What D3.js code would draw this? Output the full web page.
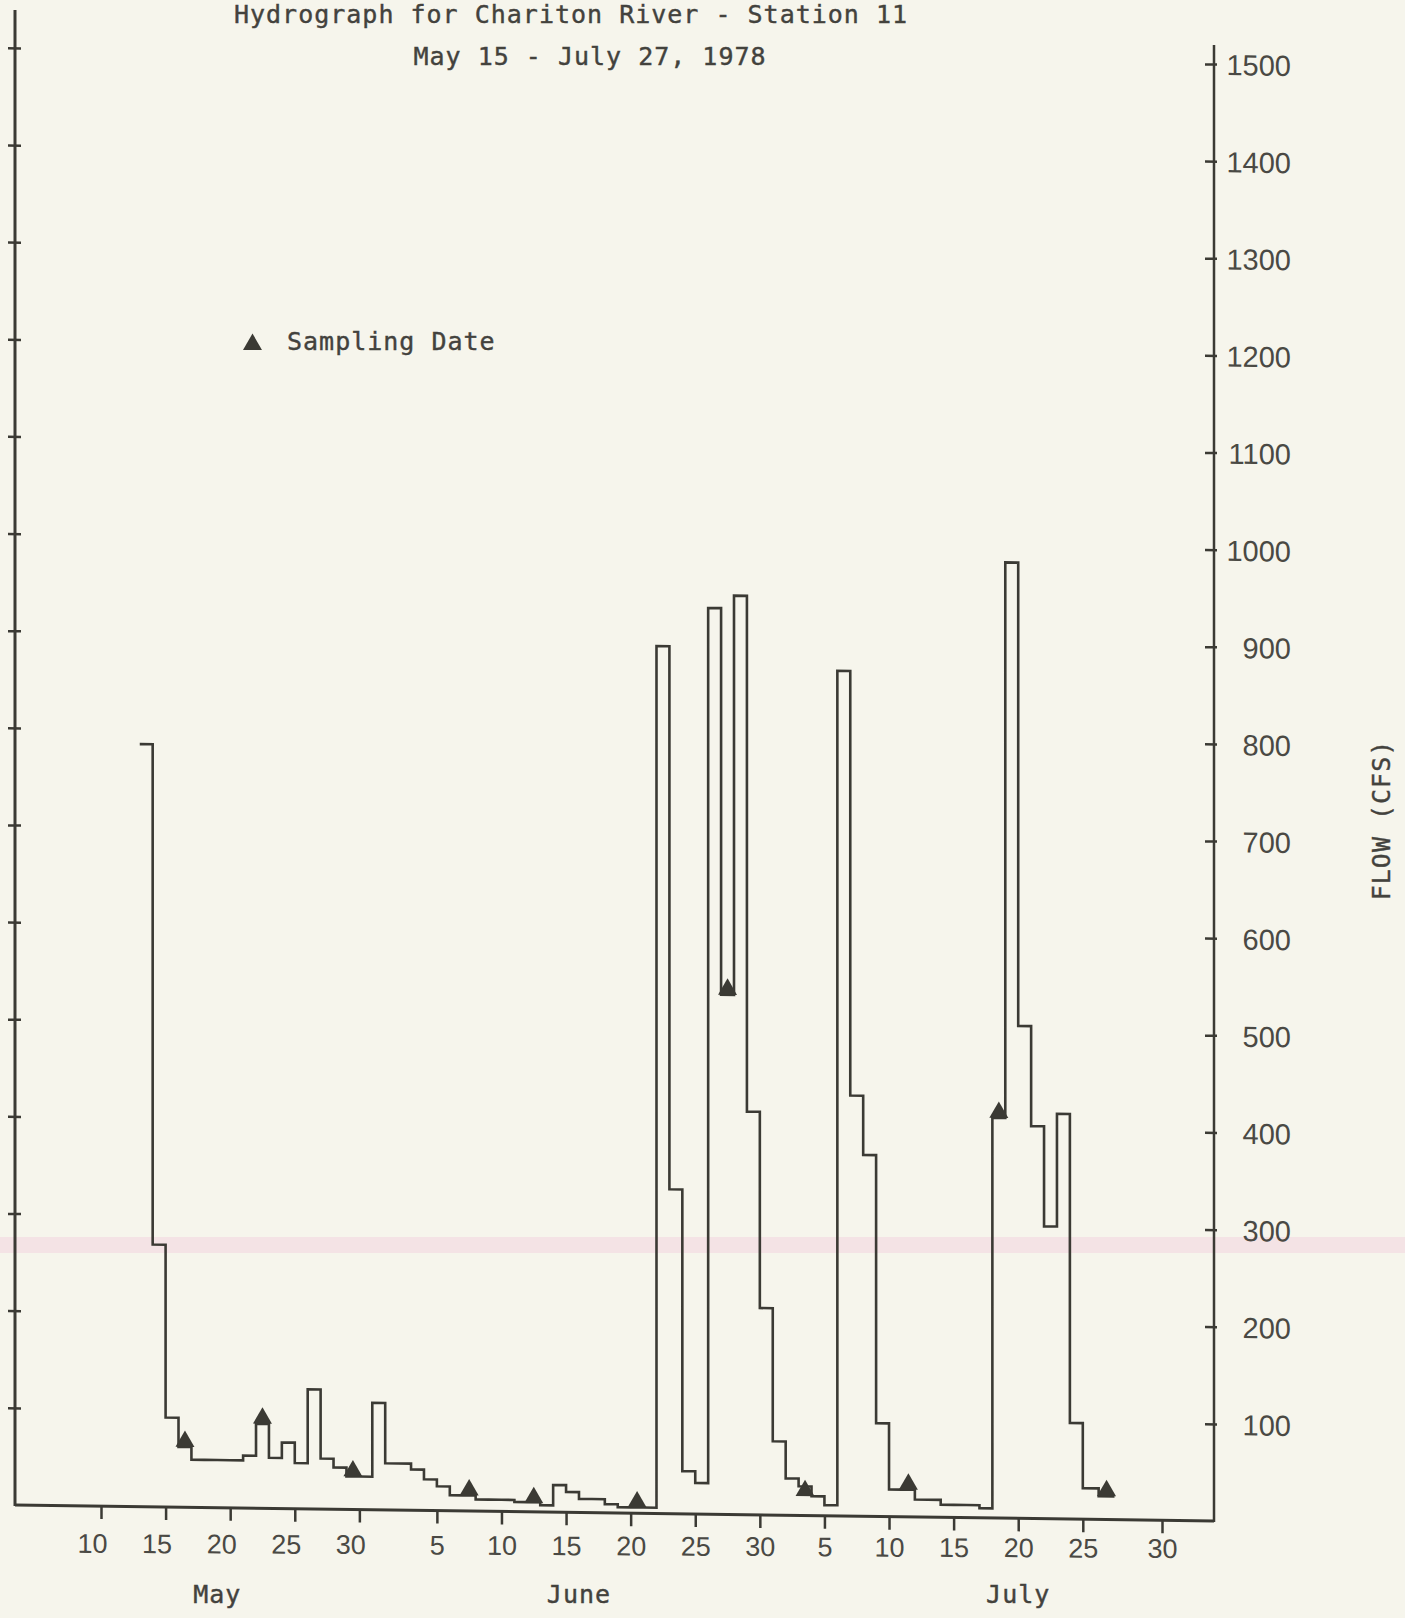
<!DOCTYPE html>
<html>
<head>
<meta charset="utf-8">
<script src="https://cdn.jsdelivr.net/npm/d3@7"></script>
<style>
  html, body { margin: 0; padding: 0; background: #f6f5ec; }
  svg { display: block; }
  .mono { font-family: "DejaVu Sans Mono", monospace; font-size: 25px; letter-spacing: 1px;
    fill: #43423d; stroke: #43423d; stroke-width: 0.4px; }
</style>
</head>
<body>
<svg id="chart" width="1405" height="1618"></svg>
<script>
// daily flow (cfs)
const mayFlow = [785, 270, 92, 62, 49, 49, 49, 49, 54, 87, 52, 68, 47, 123, 52, 43, 34, 34, 110]; // May 13-31
const juneFlow = [48, 48, 42, 32, 25, 16, 16, 12, 12, 12, 10, 10, 7, 28, 21, 14, 14, 9, 6, 6,
  6, 893, 334, 44, 32, 933, 535, 946, 415, 213]; // June 1-30
const julyFlow = [76, 38, 30, 20, 11, 870, 433, 372, 96, 28, 28, 18, 18, 13, 13, 13, 10, 412,
  984, 507, 404, 301, 417, 99, 32, 24]; // July 1-26

const sampleDates = ["1978-05-16", "1978-05-22", "1978-05-29", "1978-06-07", "1978-06-12", "1978-06-20",
  "1978-06-27", "1978-07-03", "1978-07-11", "1978-07-18", "1978-07-26"];
const sampleFlows = [62, 87, 34, 16, 9, 6, 535, 20, 28, 412, 24];

const dayTicks = ["1978-05-10", "1978-05-15", "1978-05-20", "1978-05-25", "1978-05-30",
  "1978-06-05", "1978-06-10", "1978-06-15", "1978-06-20", "1978-06-25", "1978-06-30",
  "1978-07-05", "1978-07-10", "1978-07-15", "1978-07-20", "1978-07-25", "1978-07-30"];
const flowTicks = [100, 200, 300, 400, 500, 600, 700, 800, 900, 1000, 1100, 1200, 1300, 1400, 1500];
const months = ["May", "June", "July"];
const monthAt = ["1978-05-19", "1978-06-16", "1978-07-20"];

const parse = d3.utcParse("%Y-%m-%d");
const DAY = 864e5;
const ink = "#3b3a34";
const textInk = "#4a4944";
const sans = '"Liberation Sans", Arial, sans-serif';

// build the daily series
const series = [];
[["1978-05-13", mayFlow], ["1978-06-01", juneFlow], ["1978-07-01", julyFlow]].forEach(([start, vals]) => {
  const t0 = parse(start).getTime();
  vals.forEach((v, i) => series.push({ date: new Date(t0 + i * DAY), flow: v }));
});
const last = series[series.length - 1];
series.push({ date: new Date(last.date.getTime() + DAY), flow: last.flow });

const samples = sampleDates.map((d, i) => ({ date: new Date(parse(d).getTime() + DAY / 2), flow: sampleFlows[i] }));

const svg = d3.select("#chart");
const xLeft = 15, xRight = 1214;
const tilt = 0.0134;       // the scanned axes run slightly downhill
const labelTilt = 0.0047;  // the typed day numbers run less steeply

// hand-drawn axis: the last five-day step is drawn a little wider
const x = d3.scaleUtc()
  .domain([parse("1978-05-10"), parse("1978-07-25"), parse("1978-07-30")])
  .range([101, 1082.8, 1162]);
const y = d3.scaleLinear().domain([0, 1500]).range([1521, 64]);

// faint pink band on the paper
svg.append("rect")
  .attr("x", 0).attr("y", 1237).attr("width", 1405).attr("height", 16)
  .attr("fill", "#f3d9e2").attr("opacity", 0.65);

// titles
svg.append("text").attr("class", "mono").attr("x", 571).attr("y", 23).attr("text-anchor", "middle")
  .text("Hydrograph for Chariton River - Station 11");
svg.append("text").attr("class", "mono").attr("x", 590).attr("y", 65).attr("text-anchor", "middle")
  .text("May 15 - July 27, 1978");

// legend
svg.append("path")
  .attr("transform", "translate(252.5,344.5)")
  .attr("d", d3.symbol(d3.symbolTriangle, 156)())
  .attr("fill", ink);
svg.append("text").attr("class", "mono").attr("x", 287).attr("y", 350).text("Sampling Date");

const plot = svg.append("g")
  .attr("transform", `translate(0,${-tilt * xRight}) skewY(${Math.atan(tilt) * 180 / Math.PI})`);

// axis lines
plot.append("line").attr("x1", xLeft).attr("x2", xRight).attr("y1", y(0)).attr("y2", y(0))
  .attr("stroke", ink).attr("stroke-width", 3);
plot.append("line").attr("x1", xLeft).attr("x2", xLeft).attr("y1", y(0) + 1).attr("y2", 26)
  .attr("stroke", ink).attr("stroke-width", 3);
plot.append("line").attr("x1", xRight).attr("x2", xRight).attr("y1", y(0) + 1).attr("y2", 45)
  .attr("stroke", ink).attr("stroke-width", 2.5);

const gLeft = plot.append("g").attr("transform", `translate(${xLeft},0)`)
  .call(d3.axisLeft(y).tickValues(flowTicks).tickFormat("").tickSizeOuter(0));
gLeft.select(".domain").remove();
gLeft.selectAll(".tick line").attr("x1", -7).attr("x2", 6).attr("stroke", ink).attr("stroke-width", 2.5);

const gRight = plot.append("g").attr("transform", `translate(${xRight},0)`)
  .call(d3.axisRight(y).tickValues(flowTicks).tickFormat(d3.format("d")).tickSizeOuter(0))
  .attr("font-family", sans).attr("font-size", 29);
gRight.select(".domain").remove();
gRight.selectAll(".tick line").attr("x1", -9).attr("x2", 3).attr("stroke", ink).attr("stroke-width", 2.5);
gRight.selectAll(".tick text").attr("x", 77).attr("dy", "0.36em").attr("text-anchor", "end").attr("fill", textInk);

const gBottom = plot.append("g").attr("transform", `translate(0,${y(0)})`)
  .call(d3.axisBottom(x).tickValues(dayTicks.map(parse)).tickFormat(d3.utcFormat("%-d")).tickSize(13).tickSizeOuter(0))
  .attr("font-family", sans).attr("font-size", 27);
gBottom.select(".domain").remove();
gBottom.selectAll(".tick line").attr("stroke", ink).attr("stroke-width", 2.5);
gBottom.selectAll(".tick text")
  .attr("dy", null)
  .attr("y", d => {
    const px = x(d);
    return 32 + labelTilt * (px - 106) - tilt * (px - xRight);
  })
  .attr("dx", d => d.getUTCMonth() === 4 ? -9 : 0)
  .attr("fill", textInk);

// hydrograph
const line = d3.line()
  .x(d => x(d.date))
  .y(d => y(d.flow))
  .curve(d3.curveStepAfter);

plot.append("path")
  .datum(series)
  .attr("d", line)
  .attr("fill", "none")
  .attr("stroke", ink)
  .attr("stroke-width", 2.6)
  .attr("stroke-linejoin", "miter");

plot.selectAll(".sample")
  .data(samples)
  .join("path")
  .attr("class", "sample")
  .attr("transform", d => `translate(${x(d.date)},${y(d.flow) - 5.5})`)
  .attr("d", d3.symbol(d3.symbolTriangle, 156)())
  .attr("fill", ink);

// month names
svg.selectAll(".month")
  .data(months)
  .join("text")
  .attr("class", "mono month")
  .attr("x", (d, i) => x(parse(monthAt[i])))
  .attr("y", 1603)
  .attr("text-anchor", "middle")
  .text(d => d);

// axis title
svg.append("text").attr("class", "mono")
  .attr("transform", "translate(1390,820) rotate(-90)")
  .attr("text-anchor", "middle")
  .text("FLOW (CFS)");
</script>
</body>
</html>
